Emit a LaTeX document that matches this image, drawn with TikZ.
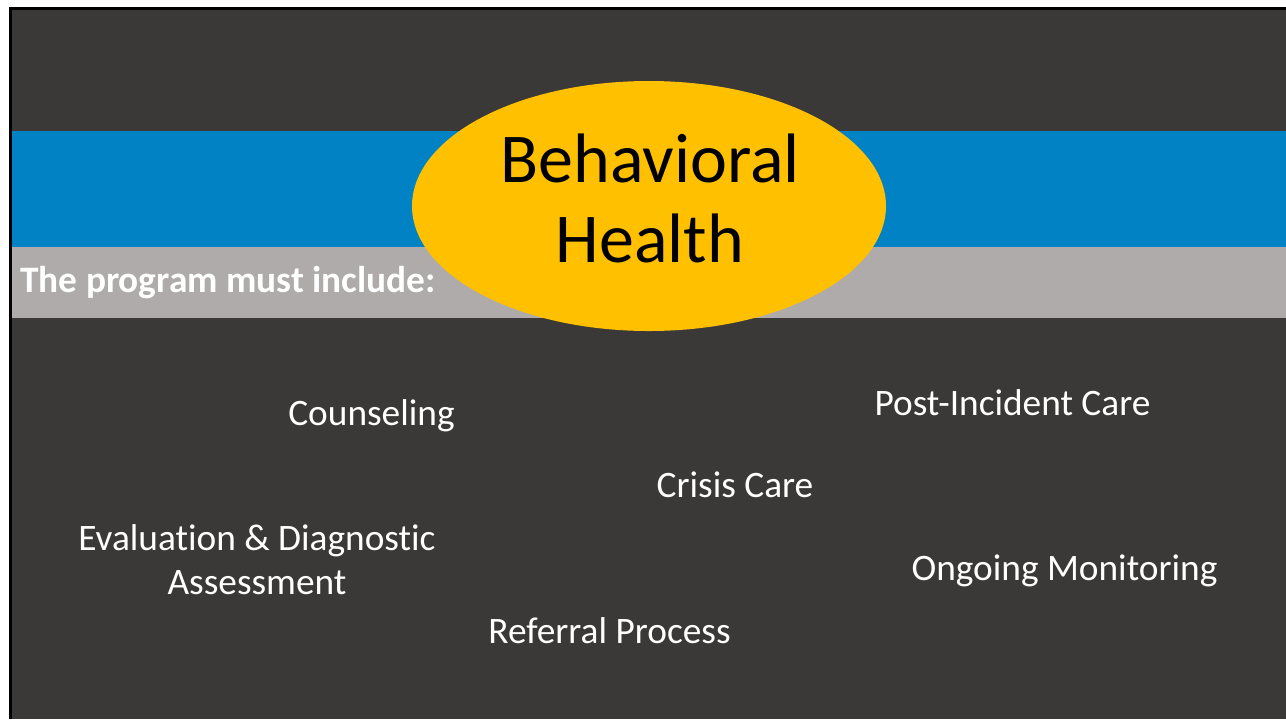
\documentclass[tikz,border=0pt]{standalone}
\usepackage{fontspec}
\setmainfont{Carlito}[Ligatures={NoCommon}]
\usetikzlibrary{shapes.geometric}
\definecolor{slate}{HTML}{3A3937}
\definecolor{bandblue}{HTML}{0082C4}
\definecolor{bandgrey}{HTML}{AFABAA}
\definecolor{sun}{HTML}{FFC000}
\tikzset{
  item/.style={text=white, font=\fontsize{28}{34}\selectfont, anchor=base, inner sep=0pt, align=center},
}
\begin{document}
\begin{tikzpicture}[x=0.75pt, y=-0.75pt]
  % canvas and slide frame
  \useasboundingbox (0,0) rectangle (1286,719);
  \fill[white] (0,0) rectangle (1286,719);
  \fill[black] (9,7) rectangle (1286,719);
  \fill[slate] (12,10) rectangle (1286,719);
  % title bands
  \fill[bandblue] (12,131) rectangle (1286,247);
  \fill[bandgrey] (12,247) rectangle (1286,318);
  % heading ellipse
  \node[ellipse, fill=sun, minimum width=474*0.75pt, minimum height=250*0.75pt, inner sep=0pt] (bh) at (649,206) {};
  \node[anchor=base, inner sep=0pt, font=\fontsize{52.5}{60}\selectfont] (bh1) at (650,182) {Behavioral};
  \node[anchor=base, inner sep=0pt, font=\fontsize{52.5}{60}\selectfont] (bh2) at (650,262) {Health};
  % subtitle
  \node[anchor=base west, inner sep=0pt, text=white, font=\bfseries\fontsize{28}{34}\selectfont] (sub) at (20,292) {The program must include:};
  % program elements
  \node[item] (couns) at (371.5,425) {Counseling};
  \node[item] (post) at (1012.5,415) {Post-Incident Care};
  \node[item] (crisis) at (735,497) {Crisis Care};
  \node[item] (eval1) at (257,550) {Evaluation \& Diagnostic};
  \node[item] (eval2) at (257,594) {Assessment};
  \node[item] (ongo) at (1064.5,580) {Ongoing Monitoring};
  \node[item] (refer) at (609.5,643) {Referral Process};
\end{tikzpicture}
\end{document}
